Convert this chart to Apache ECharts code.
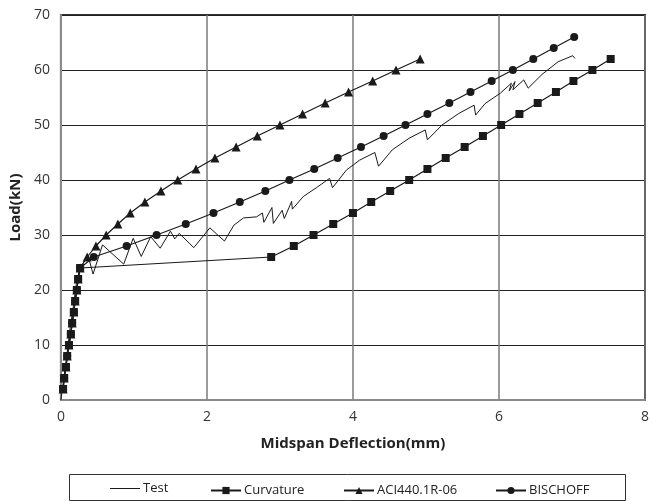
<!DOCTYPE html>
<html lang="en">

<head>
  <meta charset="UTF-8" />
  <title>Load - Midspan Deflection</title>
  <script src="https://cdnjs.cloudflare.com/ajax/libs/echarts/6.0.0/echarts.min.js"></script>
  <style>
    body { margin: 0; background: #fff; }
    #main { width: 652px; height: 501px; }
  </style>
</head>

<body>
  <div id="main"></div>

  <script>
    // values
    const seriesNames = ["Test", "Curvature", "ACI440.1R-06", "BISCHOFF"];

    // shared uncracked branch (all three models)
    const baseX = [0.03, 0.045, 0.07, 0.086, 0.11, 0.136, 0.154, 0.177, 0.195, 0.218, 0.236, 0.263];
    const baseY = [2, 4, 6, 8, 10, 12, 14, 16, 18, 20, 22, 24];

    const curvatureX = [2.88, 3.19, 3.46, 3.73, 4.0, 4.25, 4.51, 4.77, 5.02, 5.27, 5.53, 5.78, 6.03, 6.28, 6.53, 6.78, 7.02, 7.28, 7.53];
    const curvatureY = [26, 28, 30, 32, 34, 36, 38, 40, 42, 44, 46, 48, 50, 52, 54, 56, 58, 60, 62];

    const aciX = [0.36, 0.48, 0.62, 0.78, 0.95, 1.15, 1.37, 1.6, 1.85, 2.11, 2.4, 2.69, 3.0, 3.31, 3.62, 3.94, 4.27, 4.59, 4.92];
    const aciY = [26, 28, 30, 32, 34, 36, 38, 40, 42, 44, 46, 48, 50, 52, 54, 56, 58, 60, 62];

    const bischoffX = [0.45, 0.9, 1.31, 1.71, 2.09, 2.45, 2.8, 3.13, 3.47, 3.79, 4.11, 4.42, 4.72, 5.02, 5.32, 5.61, 5.9, 6.19, 6.47, 6.75, 7.03];
    const bischoffY = [26, 28, 30, 32, 34, 36, 38, 40, 42, 44, 46, 48, 50, 52, 54, 56, 58, 60, 62, 64, 66];

    const testX = [0, 0.04, 0.08, 0.12, 0.17, 0.21, 0.26, 0.3, 0.37, 0.44, 0.57, 0.86, 0.99, 1.1, 1.23, 1.36, 1.5, 1.56, 1.62,
      1.82, 2.04, 2.24, 2.37, 2.5, 2.68, 2.76, 2.78, 2.89, 2.91, 3.03, 3.06, 3.16, 3.17, 3.32, 3.5, 3.68, 3.72, 3.91, 4.09,
      4.3, 4.35, 4.54, 4.77, 4.99, 5.02, 5.22, 5.45, 5.66, 5.68, 5.81, 6.02, 6.17, 6.14, 6.22, 6.19, 6.34, 6.4, 6.59, 6.81, 7.01, 7.04];
    const testY = [0, 4, 8, 12.5, 17, 21, 24, 24.8, 26.3, 22.9, 28.2, 24.7, 29.4, 26.1, 29.7, 27.6, 30.7, 29.3, 30.3,
      27.7, 31.3, 28.9, 31.8, 33.1, 33.3, 34.0, 32.3, 35, 32.1, 34.5, 33, 36.1, 34.7, 37, 38.6, 40.3, 38.6, 41.8, 43.6,
      45, 42.5, 45.5, 47.6, 49.1, 47.3, 50, 52.1, 53.6, 51.8, 53.9, 55.8, 57.6, 56.2, 57.9, 56.4, 58.2, 56.7, 59.2, 61.5, 62.6, 62.1];

    const xTicks = { min: 0, max: 8, interval: 2 };
    const yTicks = { min: 0, max: 70, interval: 10 };

    // left edge of each legend entry
    const legendLefts = [105, 205, 338, 490];

    function pairs(xs, ys) {
      return xs.map((x, i) => [x, ys[i]]);
    }

    const font = "'Open Sans', 'Liberation Sans', sans-serif";
    const ink = "#1a1a1a";

    const chart = echarts.init(document.getElementById("main"));

    // the Test entry is a plain line, the others keep line + marker
    const legends = seriesNames.map((name, i) => {
      const plain = i === 0;
      return {
        data: plain ? [{ name: name, icon: "rect" }] : [name],
        left: legendLefts[i],
        top: plain ? 477 : 479,
        itemWidth: 30,
        itemHeight: plain ? 1 : 9,
        textStyle: { fontSize: 13, color: "#222", padding: [0, 0, 0, -2] },
      };
    });

    chart.setOption({
      animation: false,
      textStyle: { fontFamily: font },
      grid: {
        left: 56, right: 7, top: 15, bottom: 101,
        show: true, borderColor: "#333", borderWidth: 2
      },
      xAxis: {
        type: "value",
        min: xTicks.min, max: xTicks.max, interval: xTicks.interval,
        name: "Midspan Deflection(mm)",
        nameLocation: "middle",
        nameGap: 36,
        nameTextStyle: { fontSize: 15, fontWeight: "bold", color: "#222" },
        axisLine: { lineStyle: { color: "#8a8a8a", width: 2 } },
        axisTick: { show: false },
        axisLabel: { fontSize: 14, color: "#333", margin: 10 },
        splitLine: { lineStyle: { color: "#7a7a7a", width: 1.5 } },
      },
      yAxis: {
        type: "value",
        min: yTicks.min, max: yTicks.max, interval: yTicks.interval,
        name: "Load(kN)",
        nameLocation: "middle",
        nameGap: 33,
        nameTextStyle: { fontSize: 15, fontWeight: "bold", color: "#222" },
        axisLine: { lineStyle: { color: "#8a8a8a", width: 2 } },
        axisTick: { show: false },
        axisLabel: { fontSize: 14, color: "#333", margin: 11 },
        splitLine: { lineStyle: { color: "#222", width: 1 } },
      },
      legend: legends,
      graphic: [{
        type: "rect",
        shape: { x: 69.5, y: 474.5, width: 556, height: 26 },
        style: { fill: "none", stroke: "#333", lineWidth: 1 },
      }],
      series: [
        {
          name: seriesNames[0],
          type: "line",
          data: pairs(testX, testY),
          symbol: "none",
          lineStyle: { color: ink, width: 1 },
          itemStyle: { color: ink },
          z: 2,
        },
        {
          name: seriesNames[2],
          type: "line",
          data: pairs(baseX.concat(aciX), baseY.concat(aciY)),
          symbol: "triangle",
          symbolSize: 9,
          lineStyle: { color: ink, width: 1.2 },
          itemStyle: { color: ink },
          z: 3,
        },
        {
          name: seriesNames[3],
          type: "line",
          data: pairs(baseX.concat(bischoffX), baseY.concat(bischoffY)),
          symbol: "circle",
          symbolSize: 8,
          lineStyle: { color: ink, width: 1.2 },
          itemStyle: { color: ink },
          z: 3,
        },
        {
          name: seriesNames[1],
          type: "line",
          data: pairs(baseX.concat(curvatureX), baseY.concat(curvatureY)),
          symbol: "rect",
          symbolSize: 8,
          lineStyle: { color: ink, width: 1.2 },
          itemStyle: { color: ink },
          z: 4,
        },
      ],
    });
  </script>
</body>

</html>
